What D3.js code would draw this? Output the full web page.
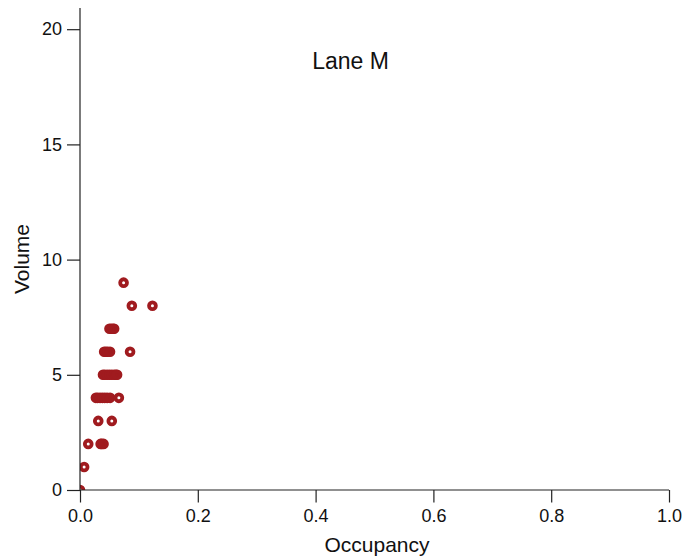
<!DOCTYPE html>
<html>
<head>
<meta charset="utf-8">
<script src="https://cdn.jsdelivr.net/npm/d3@7/dist/d3.min.js"></script>
<style>
  html, body { margin: 0; padding: 0; background: #fff; }
  svg { display: block; font-family: "Liberation Sans", Arial, Helvetica, sans-serif; }
</style>
</head>
<body>
<svg id="chart" width="684" height="557"></svg>
<script>
// Occupancy / volume observations for lane M, grouped by volume count
const volumes = [9, 8, 8, 7, 7, 7, 7, 6, 6, 6, 6, 6,
  5, 5, 5, 5, 5, 5, 5, 5,
  4, 4, 4, 4, 4, 4, 4, 4,
  3, 3, 2, 2, 2, 2, 1, 0];
const occupancy = [0.074, 0.088, 0.123, 0.050, 0.053, 0.056, 0.058, 0.041, 0.044, 0.047, 0.051, 0.085,
  0.039, 0.042, 0.046, 0.050, 0.054, 0.058, 0.061, 0.063,
  0.027, 0.030, 0.034, 0.038, 0.042, 0.046, 0.051, 0.066,
  0.031, 0.054, 0.014, 0.035, 0.037, 0.040, 0.007, 0.000];
const xTicks = [0, 0.2, 0.4, 0.6, 0.8, 1.0];
const yTicks = [0, 5, 10, 15, 20];
const title = "Lane M";
const xTitle = "Occupancy";
const yTitle = "Volume";

const svg = d3.select("#chart");
const plotLeft = 80, plotRight = 669, plotTop = 8, plotBottom = 490;
const fontStack = "'Liberation Sans', Arial, Helvetica, sans-serif";

const x = d3.scaleLinear().domain([0, 1]).range([plotLeft, plotRight]);
const y = d3.scaleLinear().domain([0, 20.92]).range([plotBottom, plotTop]);

// Clip markers to the plotting region
svg.append("defs").append("clipPath").attr("id", "plotClip")
  .append("rect").attr("x", plotLeft).attr("y", plotTop)
  .attr("width", plotRight - plotLeft).attr("height", plotBottom - plotTop);

const points = occupancy.map((o, i) => ({ x: o, y: volumes[i] }));

svg.append("g").attr("clip-path", "url(#plotClip)")
  .selectAll("circle").data(points).join("circle")
  .attr("cx", d => x(d.x))
  .attr("cy", d => y(d.y))
  .attr("r", 3.4)
  .attr("fill", "none")
  .attr("stroke", "#a01b1f")
  .attr("stroke-width", 3.8);

// Axes
const xAxis = d3.axisBottom(x).tickValues(xTicks).tickSize(12.5).tickPadding(7)
  .tickFormat(d3.format(".1f"));
const yAxis = d3.axisLeft(y).tickValues(yTicks).tickSize(13).tickPadding(5);

const gx = svg.append("g").attr("transform", `translate(0,${plotBottom})`).call(xAxis);
const gy = svg.append("g").attr("transform", `translate(${plotLeft},0)`).call(yAxis);

[gx, gy].forEach(g => {
  g.attr("font-size", null).attr("font-family", null);
  g.select(".domain").attr("stroke", "#222").attr("stroke-width", 1.2);
  g.selectAll(".tick line").attr("stroke", "#222").attr("stroke-width", 1.2);
  g.selectAll(".tick text").attr("fill", "#111")
    .attr("font-size", 18).attr("font-family", fontStack);
});
gx.select(".domain").attr("d", `M${plotLeft},0H${plotRight}`);
gy.select(".domain").attr("d", `M0,${plotBottom}V${plotTop}`);

// Titles
svg.append("text").attr("x", 350.5).attr("y", 69).attr("text-anchor", "middle")
  .attr("font-size", 23).attr("font-family", fontStack).attr("fill", "#111").text(title);
svg.append("text").attr("x", 377).attr("y", 552).attr("text-anchor", "middle")
  .attr("font-size", 21).attr("font-family", fontStack).attr("fill", "#111").text(xTitle);
svg.append("text").attr("transform", "translate(29,259) rotate(-90)")
  .attr("text-anchor", "middle").attr("font-size", 21).attr("font-family", fontStack)
  .attr("fill", "#111").text(yTitle);
</script>
</body>
</html>
